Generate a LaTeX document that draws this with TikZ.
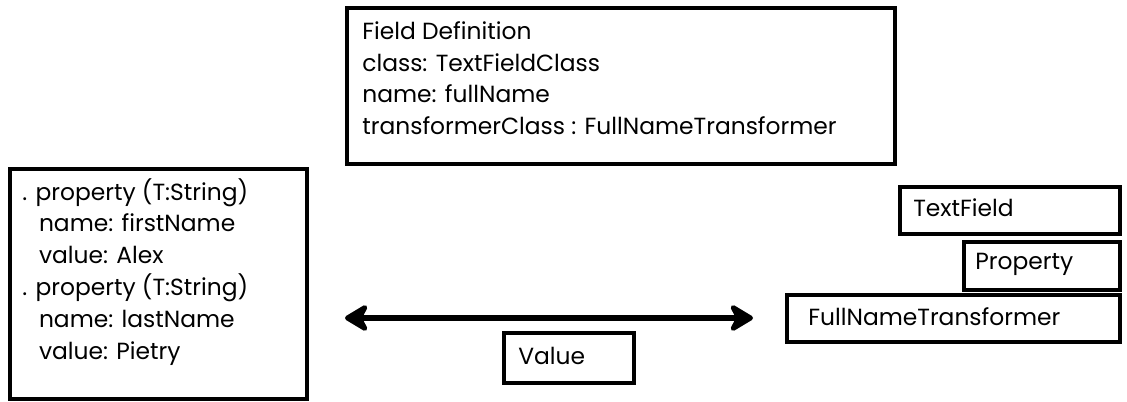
\documentclass[tikz,border=0pt]{standalone}
\usepackage{fontspec}
\setmainfont{Poppins}
\usetikzlibrary{arrows.meta}
\begin{document}
\begin{tikzpicture}[x=0.02cm,y=-0.02cm,
  >={Stealth[length=16pt,width=19pt,inset=5pt,round]},
  box/.style={draw, line width=2pt, rectangle, inner sep=0pt, anchor=north west},
  txt/.style={inner sep=0pt, align=left, font=\fontsize{13.3}{18.1}\selectfont},
  lbl/.style={inner sep=0pt, anchor=west, font=\fontsize{13.3}{18.1}\selectfont}]
\useasboundingbox (0,0) rectangle (1127,402);
% Field definition
\node[box, minimum width=548*0.02cm, minimum height=156*0.02cm] (fd) at (345,6) {};
\node[txt, anchor=north west] (fdt) at (362,21) {Field Definition\\class: TextFieldClass\\name: fullName\\transformerClass : FullNameTransformer};
% Left properties box
\node[box, minimum width=297*0.02cm, minimum height=230*0.02cm] (props) at (8,167) {};
\node[txt, anchor=north west] (propst) at (22,178) {. property (T:String)\\\hspace*{9.5pt}name: firstName\\\hspace*{9.5pt}value: Alex\\. property (T:String)\\\hspace*{9.5pt}name: lastName\\\hspace*{9.5pt}value: Pietry};
% Arrow
\coordinate (aL) at (345,318);
\coordinate (aR) at (753,318);
\draw[line width=3.4pt, <->] (aL) -- (aR);
% Value box
\node[box, minimum width=130*0.02cm, minimum height=50*0.02cm] (val) at (502,331) {};
\node[lbl] (valt) at (518,356) {Value};
% Right boxes
\node[box, minimum width=220*0.02cm, minimum height=47*0.02cm] (tf) at (898,185) {};
\node[lbl] (tft) at (913,208) {TextField};
\node[box, minimum width=156*0.02cm, minimum height=48*0.02cm] (pr) at (962,240) {};
\node[lbl] (prt) at (975,264) {Property};
\node[box, minimum width=333*0.02cm, minimum height=47*0.02cm] (fn) at (785,293) {};
\node[lbl] (fnt) at (808,317) {FullNameTransformer};
\end{tikzpicture}
\end{document}
